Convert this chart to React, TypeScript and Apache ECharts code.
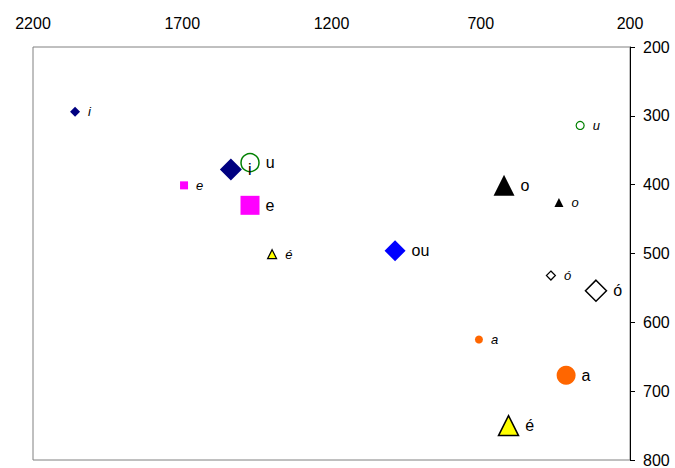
import React, { useEffect, useRef } from "react";
import * as echarts from "echarts";

const vowels = ["i", "e", "é", "a", "o", "ó", "u", "ou"];
// Large markers (regular labels): F2 (x), F1 (y)
const largeF2 = [1537, 1473, 607, 414, 622, 314, 1473, 987];
const largeF1 = [378, 430, 750, 677, 401, 554, 368, 496];
// Small markers (italic labels)
const smallF2 = [2059, 1694, 1399, 706, 438, 465, 367, null];
const smallF1 = [294, 401, 501, 625, 426, 532, 314, null];

const xTicks = [200, 700, 1200, 1700, 2200];
const yTicks = [200, 300, 400, 500, 600, 700, 800];

const styles: Record<string, any> = {
  i: { symbol: "diamond", color: "#000080", border: "#000080" },
  e: { symbol: "rect", color: "#FF00FF", border: "#FF00FF" },
  "é": { symbol: "triangle", color: "#FFFF00", border: "#000000" },
  a: { symbol: "circle", color: "#FF6600", border: "#FF6600" },
  o: { symbol: "triangle", color: "#000000", border: "#000000" },
  "ó": { symbol: "diamond", color: "#FFFFFF", border: "#000000" },
  u: { symbol: "circle", color: "rgba(0,0,0,0)", border: "#008000" },
  ou: { symbol: "diamond", color: "#0000FF", border: "#0000FF" },
};

const largeSize: Record<string, number> = { i: 22, e: 19, "é": 20, a: 19, o: 21, "ó": 21, u: 18, ou: 21 };
const smallSize: Record<string, number> = { i: 10, e: 8, "é": 9, a: 8, o: 9, "ó": 9, u: 8, ou: 8 };

const FONT = "'Liberation Sans', Arial, sans-serif";

export default function App() {
  const ref = useRef<HTMLDivElement>(null);
  useEffect(() => {
    if (!ref.current) return;
    const chart = echarts.init(ref.current, null, { renderer: "svg" });
    const series: any[] = [];
    vowels.forEach((v, k) => {
      const st = styles[v];
      series.push({
        type: "scatter",
        name: v + "-large",
        symbol: st.symbol,
        symbolSize: largeSize[v],
        data: [[largeF2[k], largeF1[k]]],
        itemStyle: {
          color: st.color,
          borderColor: st.border,
          borderWidth: st.border !== st.color ? 1.5 : 0,
          opacity: 1,
        },
        label: {
          show: true,
          position: "right",
          distance: 6,
          formatter: v,
          color: "#000",
          fontSize: 16,
          fontFamily: FONT,
        },
        z: 3,
      });
      if (smallF2[k] != null) {
        series.push({
          type: "scatter",
          name: v + "-small",
          symbol: st.symbol,
          symbolSize: smallSize[v],
          data: [[smallF2[k], smallF1[k]]],
          itemStyle: {
            color: st.color,
            borderColor: st.border,
            borderWidth: st.border !== st.color ? 1.2 : 0,
            opacity: 1,
          },
          label: {
            show: true,
            position: "right",
            distance: 8,
            formatter: v,
            color: "#000",
            fontSize: 13,
            fontStyle: "italic",
            fontFamily: FONT,
          },
          z: 3,
        });
      }
    });
    chart.setOption({
      animation: false,
      backgroundColor: "#fff",
      grid: {
        left: 33,
        right: 45,
        top: 47,
        bottom: 7,
        show: true,
        borderColor: "#808080",
        borderWidth: 1,
      },
      xAxis: {
        type: "value",
        position: "top",
        inverse: true,
        min: xTicks[0],
        max: xTicks[xTicks.length - 1],
        interval: 500,
        axisLine: { show: false },
        axisTick: { show: false },
        splitLine: { show: false },
        axisLabel: {
          color: "#000",
          fontSize: 16,
          fontFamily: FONT,
          margin: 16,
          formatter: (val: number) => String(val),
        },
      },
      yAxis: {
        type: "value",
        position: "right",
        inverse: true,
        min: yTicks[0],
        max: yTicks[yTicks.length - 1],
        interval: 100,
        axisLine: { show: true, lineStyle: { color: "#000", width: 1 } },
        axisTick: { show: true, length: 5, lineStyle: { color: "#000" } },
        splitLine: { show: false },
        axisLabel: {
          color: "#000",
          fontSize: 16,
          fontFamily: FONT,
          margin: 13,
          formatter: (val: number) => String(val),
        },
      },
      series,
    });
    return () => chart.dispose();
  }, []);
  return <div ref={ref} style={{ width: 675, height: 468, position: "absolute", left: 0, top: 0 }} />;
}
